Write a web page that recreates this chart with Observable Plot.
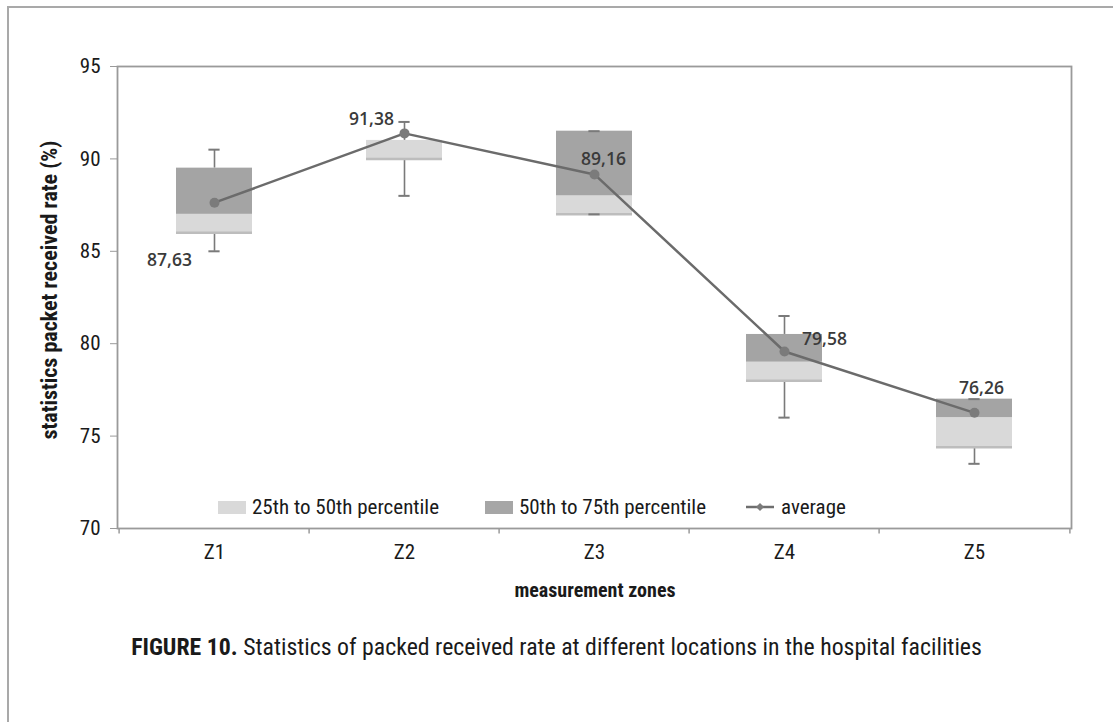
<!DOCTYPE html>
<html><head><meta charset="utf-8">
<script src="https://cdn.jsdelivr.net/npm/d3@7"></script>
<script src="https://cdn.jsdelivr.net/npm/@observablehq/plot@0.6"></script>
<style>
body{margin:0;background:#fff;}
#fig{position:relative;width:1113px;height:722px;overflow:hidden;background:#fff;
 font-family:"Liberation Sans Narrow","Roboto Condensed","DejaVu Sans Condensed",sans-serif;color:#1a1a1a;}
#border{position:absolute;left:7px;top:6px;width:1200px;height:800px;border-top:2px solid #a9a9a9;border-left:2px solid #a9a9a9;pointer-events:none;}
#chart{position:absolute;left:0;top:0;}
#chart svg{background:transparent !important;}
.ttl{position:absolute;font-weight:bold;text-align:center;line-height:24px;white-space:nowrap;}
#ytitle{font-size:22px;width:400px;left:-150px;top:278px;transform:rotate(-90deg);}
#xtitle{font-size:20px;width:400px;left:395px;top:578px;}
.leg{position:absolute;top:496px;font-size:21px;line-height:22px;white-space:nowrap;display:flex;align-items:center;}
.sw{display:inline-block;width:28px;height:13px;margin-right:6px;}
#caption{position:absolute;left:0;width:1113px;top:634px;text-align:center;font-size:23.8px;line-height:26px;white-space:nowrap;}
</style></head>
<body>
<div id="fig">
 <div id="chart"></div>
 <div class="ttl" id="ytitle">statistics packet received rate (%)</div>
 <div class="ttl" id="xtitle">measurement zones</div>
 <div class="leg" style="left:218px"><span class="sw" style="background:#d9d9d9"></span>25th to 50th percentile</div>
 <div class="leg" style="left:485px"><span class="sw" style="background:#a6a6a6"></span>50th to 75th percentile</div>
 <div class="leg" style="left:746px"><svg width="28" height="14" style="margin-right:7px"><line x1="0" y1="7" x2="28" y2="7" stroke="#6e6e6e" stroke-width="2.5"/><path d="M14 3 L18 7 L14 11 L10 7 Z" fill="#7b7b7b"/></svg>average</div>
 <div id="caption"><b>FIGURE 10.</b> Statistics of packed received rate at different locations in the hospital facilities</div>
 <div id="border"></div>
</div>
<script>
const zones = ["Z1", "Z2", "Z3", "Z4", "Z5"];
const minVals = [85, 88, 87, 76, 73.5];
const q1Vals = [86, 90, 87, 78, 74.4];
const medVals = [87, 91, 88, 79, 76];
const q3Vals = [89.5, 91, 91.5, 80.5, 77];
const maxVals = [90.5, 92, 91.5, 81.5, 77];
const avgVals = [87.63, 91.38, 89.16, 79.58, 76.26];
const yTicks = [70, 75, 80, 85, 90, 95];

const data = zones.map((z, i) => ({zone: z, min: minVals[i], q1: q1Vals[i], med: medVals[i], q3: q3Vals[i], max: maxVals[i], avg: avgVals[i]}));
const fmt = v => v.toFixed(2).replace(".", ",");

const W = 1113, H = 600, mL = 117, mR = 42;
const bw = (W - mL - mR) / zones.length;
const boxInset = 57, capInset = bw / 2 - 6;
const labelDx = [-45, -33, 9, 40, 7];
const labelDy = [58, -14, -15, -12, -24];

const chart = Plot.plot({
  width: W, height: H,
  marginLeft: mL, marginRight: mR, marginTop: 66, marginBottom: 72,
  style: {fontFamily: '"Liberation Sans Narrow","Roboto Condensed","DejaVu Sans Condensed",sans-serif', color: "#1a1a1a", background: "transparent"},
  x: {type: "band", domain: zones, padding: 0},
  y: {domain: [70, 95]},
  marks: [
    Plot.axisY({ticks: yTicks, tickSize: 7, tickPadding: 10, fontSize: 21, label: null, stroke: "#9a9a9a"}),
    Plot.axisX({tickSize: 0, tickPadding: 16, fontSize: 21, label: null}),
    Plot.ruleX(zones, {x: d => d, dx: -bw / 2, y1: 70, y2: 69.7, stroke: "#9a9a9a", strokeWidth: 1.5}),
    Plot.ruleX(zones.slice(-1), {x: d => d, dx: bw / 2, y1: 70, y2: 69.7, stroke: "#9a9a9a", strokeWidth: 1.5}),
    Plot.frame({stroke: "#9a9a9a", strokeWidth: 1.8}),
    Plot.ruleX(data, {x: "zone", y1: "q3", y2: "max", stroke: "#7a7a7a", strokeWidth: 1.6}),
    Plot.ruleX(data, {x: "zone", y1: "min", y2: "q1", stroke: "#7a7a7a", strokeWidth: 1.6}),
    Plot.rectY(data, {x: "zone", y1: "q1", y2: "med", fill: "#d9d9d9", insetLeft: boxInset, insetRight: boxInset}),
    Plot.rectY(data, {x: "zone", y1: "med", y2: "q3", fill: "#a4a4a4", insetLeft: boxInset, insetRight: boxInset}),
    Plot.tickY(data, {x: "zone", y: "q1", stroke: "#bdbdbd", strokeWidth: 2.5, insetLeft: boxInset, insetRight: boxInset}),
    Plot.tickY(data, {x: "zone", y: "max", stroke: "#7a7a7a", strokeWidth: 2, insetLeft: capInset, insetRight: capInset}),
    Plot.tickY(data, {x: "zone", y: "min", stroke: "#7a7a7a", strokeWidth: 2, insetLeft: capInset, insetRight: capInset}),
    Plot.line(data, {x: "zone", y: "avg", stroke: "#6b6b6b", strokeWidth: 2.5}),
    Plot.dot(data, {x: "zone", y: "avg", r: 5, fill: "#7b7b7b", stroke: "none"}),
    ...data.map((d, i) => Plot.text([d], {x: "zone", y: "avg", text: dd => fmt(dd.avg), dx: labelDx[i], dy: labelDy[i],
      fontFamily: '"Open Sans", sans-serif', fontWeight: 600, fontSize: 17.5, fill: "#3a3a3a"}))
  ]
});
document.getElementById("chart").appendChild(chart);
</script>
</body></html>
